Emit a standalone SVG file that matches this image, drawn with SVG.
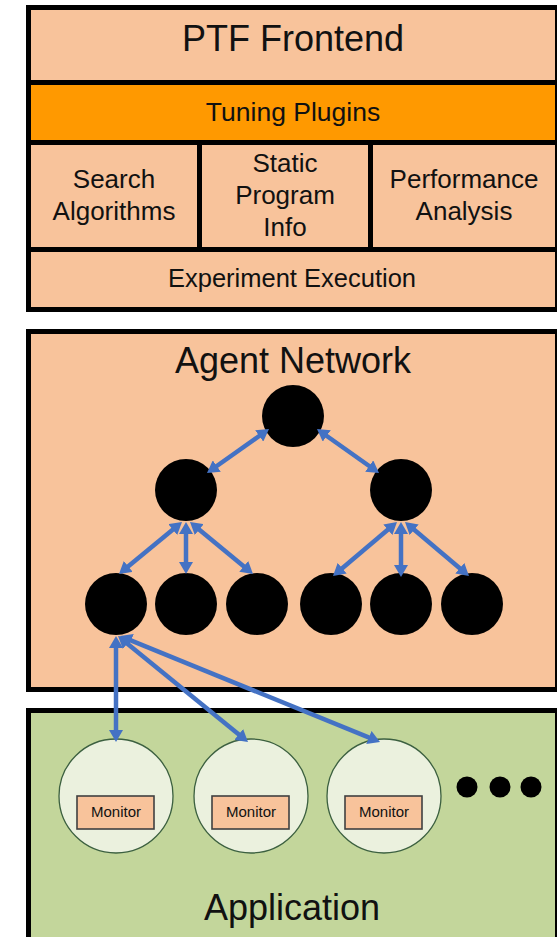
<svg xmlns="http://www.w3.org/2000/svg" width="557" height="937" viewBox="0 0 557 937">
<defs>
<style>
.frame{fill:#000}
.cell{fill:#F8C39B}
.orange{fill:#FF9900}
.green{fill:#C3D69B}
.t{font-family:"Liberation Sans",Arial,sans-serif;fill:#111;text-anchor:middle}
.big{font-size:36px}
.mid{font-size:26px}
.small{font-size:15px}
.agent{fill:#000}
.app{fill:#EBF1DE;stroke:#3C6040;stroke-width:1.3}
.mon{fill:#F8C39B;stroke:#404040;stroke-width:1.6}
.conn line{stroke:#4472C4;stroke-width:4.5;fill:none;marker-start:url(#ah);marker-end:url(#ah)}
</style>
<marker id="ah" markerUnits="userSpaceOnUse" viewBox="0 0 12 14" markerWidth="12" markerHeight="14" refX="3" refY="7" orient="auto-start-reverse">
<path d="M0,0 L12,7 L0,14 z" fill="#4472C4"/>
</marker>
</defs>
<rect width="557" height="937" fill="#fff"/>

<g id="ptf-frontend">
<rect class="frame" x="26" y="5" width="536" height="307"/>
<g id="ptf-title">
<rect class="cell" x="31" y="10" width="524" height="70"/>
<text class="t big" x="293" y="51">PTF Frontend</text>
</g>
<g id="tuning-plugins">
<rect class="orange" x="31" y="85" width="524" height="55"/>
<text class="t" style="font-size:26.5px" x="293" y="121">Tuning Plugins</text>
</g>
<g id="search-algorithms">
<rect class="cell" x="31" y="145" width="166" height="102"/>
<text class="t mid" x="114" y="188">Search</text>
<text class="t mid" x="114" y="220">Algorithms</text>
</g>
<g id="static-program-info">
<rect class="cell" x="202" y="145" width="166" height="102"/>
<text class="t mid" x="285" y="172">Static</text>
<text class="t mid" x="285" y="204">Program</text>
<text class="t mid" x="285" y="236">Info</text>
</g>
<g id="performance-analysis">
<rect class="cell" x="373" y="145" width="182" height="102"/>
<text class="t mid" x="464" y="188">Performance</text>
<text class="t mid" x="464" y="220">Analysis</text>
</g>
<g id="experiment-execution">
<rect class="cell" x="31" y="252" width="524" height="55"/>
<text class="t" style="font-size:25.5px" x="292" y="287">Experiment Execution</text>
</g>
</g>

<g id="agent-network">
<rect class="frame" x="26" y="329" width="536" height="363"/>
<rect class="cell" x="31" y="334" width="524" height="353"/>
<text class="t big" x="293" y="373">Agent Network</text>
</g>
<g id="agent-root"><circle class="agent" cx="293" cy="416" r="31"/></g>
<g id="agent-mid-left"><circle class="agent" cx="186" cy="490" r="31"/></g>
<g id="agent-mid-right"><circle class="agent" cx="401" cy="490" r="31"/></g>
<g id="agent-leaf-1"><circle class="agent" cx="116" cy="604" r="31"/></g>
<g id="agent-leaf-2"><circle class="agent" cx="186" cy="604" r="31"/></g>
<g id="agent-leaf-3"><circle class="agent" cx="257" cy="604" r="31"/></g>
<g id="agent-leaf-4"><circle class="agent" cx="331" cy="604" r="31"/></g>
<g id="agent-leaf-5"><circle class="agent" cx="401" cy="604" r="31"/></g>
<g id="agent-leaf-6"><circle class="agent" cx="472" cy="604" r="31"/></g>

<g id="application">
<rect class="frame" x="26" y="708" width="536" height="240"/>
<rect class="green" x="31" y="713" width="524" height="240"/>
<text class="t big" x="292" y="920">Application</text>
<circle class="agent" cx="467" cy="787" r="10.5"/>
<circle class="agent" cx="500" cy="787" r="10.5"/>
<circle class="agent" cx="531" cy="787" r="10.5"/>
</g>
<g id="app-process-1">
<circle class="app" cx="116" cy="796" r="57"/>
<rect class="mon" x="77" y="796" width="77" height="33"/>
<text class="t small" x="116" y="817">Monitor</text>
</g>
<g id="app-process-2">
<circle class="app" cx="251" cy="796" r="57"/>
<rect class="mon" x="212" y="796" width="77" height="33"/>
<text class="t small" x="251" y="817">Monitor</text>
</g>
<g id="app-process-3">
<circle class="app" cx="384" cy="796" r="57"/>
<rect class="mon" x="345" y="796" width="77" height="33"/>
<text class="t small" x="384" y="817">Monitor</text>
</g>

<g id="connectors" class="conn">
<line x1="261.66" y1="434.21" x2="214.34" y2="467.79"/>
<line x1="324.34" y1="434.21" x2="371.66" y2="467.79"/>
<line x1="175.06" y1="527.73" x2="125.94" y2="568.27"/>
<line x1="186" y1="531" x2="186" y2="565"/>
<line x1="196.94" y1="527.73" x2="246.06" y2="568.27"/>
<line x1="390.12" y1="527.80" x2="339.88" y2="570.20"/>
<line x1="401" y1="531" x2="401" y2="568"/>
<line x1="411.88" y1="527.80" x2="462.12" y2="570.20"/>
<line x1="116" y1="645" x2="116" y2="733"/>
<line x1="124.98" y1="641.69" x2="241.02" y2="736.31"/>
<line x1="128.33" y1="639.40" x2="371.67" y2="738.60"/>
</g>
</svg>
